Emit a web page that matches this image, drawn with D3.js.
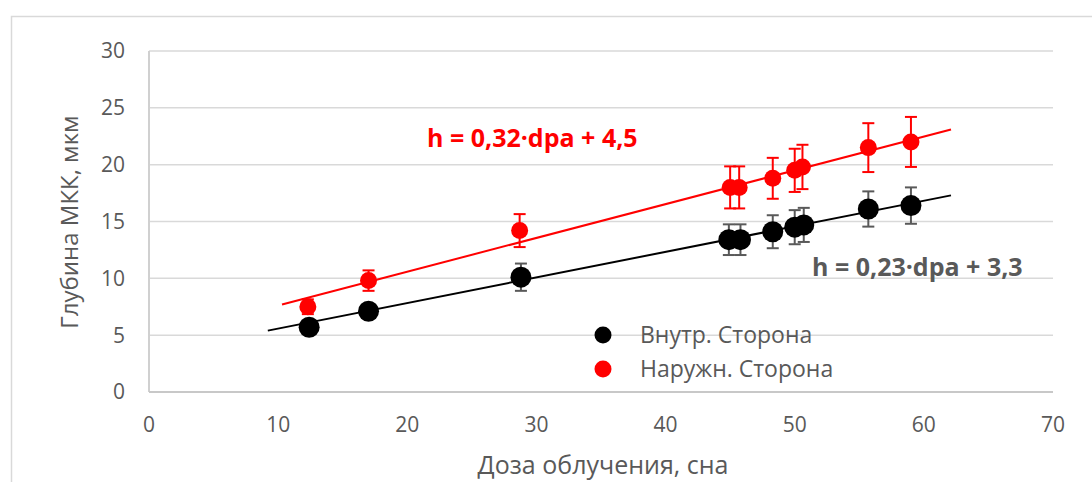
<!DOCTYPE html>
<html>
<head>
<meta charset="utf-8">
<script src="https://cdn.jsdelivr.net/npm/d3@7"></script>
<style>
  body { margin: 0; background: #fff; }
  text { font-family: "Open Sans", "Noto Sans", sans-serif; }
</style>
</head>
<body>
<svg id="canvas" width="1092" height="482"></svg>
<script>
// doses (dpa), depths and error half-widths
const innerDose = [12.4, 17.0, 28.8, 44.9, 45.8, 48.3, 50.0, 50.7, 55.7, 59.0];
const innerDepth = [5.7, 7.1, 10.1, 13.4, 13.4, 14.1, 14.5, 14.7, 16.1, 16.4];
const innerErr = [0.4, 0.5, 1.2, 1.35, 1.35, 1.45, 1.5, 1.5, 1.55, 1.6];

const outerDose = [12.3, 17.0, 28.7, 45.0, 45.7, 48.3, 50.0, 50.6, 55.7, 59.0];
const outerDepth = [7.5, 9.8, 14.2, 18.0, 18.0, 18.8, 19.5, 19.8, 21.5, 22.0];
const outerErr = [0.65, 0.9, 1.45, 1.85, 1.85, 1.8, 1.9, 1.95, 2.15, 2.2];

// trend line ends as seen on the chart
const innerTrend = [[9.2, 5.4], [62.1, 17.3]];
const outerTrend = [[10.3, 7.7], [62.1, 23.1]];

const xTicks = [0, 10, 20, 30, 40, 50, 60, 70];
const yTicks = [0, 5, 10, 15, 20, 25, 30];

const seriesNames = ['Внутр. Сторона', 'Наружн. Сторона'];

const svg = d3.select('#canvas');

// chart frame
svg.append('rect')
    .attr('x', 11.5).attr('y', 16.5)
    .attr('width', 1100).attr('height', 500)
    .attr('fill', 'none')
    .attr('stroke', '#d9d9d9')
    .attr('stroke-width', 1.5);

const x = d3.scaleLinear().domain([0, 70]).range([149, 1053]);
const y = d3.scaleLinear().domain([0, 30]).range([392, 51]);

// gridlines
svg.append('g')
    .selectAll('line')
    .data(yTicks)
    .enter()
    .append('line')
    .attr('x1', x(0)).attr('x2', x(70))
    .attr('y1', d => y(d)).attr('y2', d => y(d))
    .attr('stroke', '#d9d9d9')
    .attr('stroke-width', 1.5);

// y axis line
svg.append('line')
    .attr('x1', x(0)).attr('x2', x(0))
    .attr('y1', y(0)).attr('y2', y(30))
    .attr('stroke', '#d0d0d0')
    .attr('stroke-width', 2);

// x axis line
svg.append('line')
    .attr('x1', x(0)).attr('x2', x(70))
    .attr('y1', y(0)).attr('y2', y(0))
    .attr('stroke', '#c8c8c8')
    .attr('stroke-width', 2);

// tick labels
svg.append('g')
    .selectAll('text')
    .data(yTicks)
    .enter()
    .append('text')
    .attr('x', 125)
    .attr('y', d => y(d))
    .attr('dy', '0.35em')
    .attr('text-anchor', 'end')
    .attr('font-size', 21)
    .attr('fill', '#595959')
    .text(d => d);

svg.append('g')
    .selectAll('text')
    .data(xTicks)
    .enter()
    .append('text')
    .attr('x', d => x(d))
    .attr('y', 425)
    .attr('dy', '0.35em')
    .attr('text-anchor', 'middle')
    .attr('font-size', 21)
    .attr('fill', '#595959')
    .text(d => d);

// axis titles
svg.append('text')
    .attr('transform', 'translate(70,222) rotate(-90)')
    .attr('dy', '0.35em')
    .attr('text-anchor', 'middle')
    .attr('font-size', 24)
    .attr('fill', '#595959')
    .text('Глубина МКК, мкм');

svg.append('text')
    .attr('x', 603)
    .attr('y', 465)
    .attr('dy', '0.35em')
    .attr('text-anchor', 'middle')
    .attr('font-size', 25)
    .attr('fill', '#595959')
    .text('Доза облучения, сна');

// trend lines
const line = d3.line().x(d => x(d[0])).y(d => y(d[1]));

svg.append('path')
    .attr('d', line(innerTrend))
    .attr('stroke', '#000')
    .attr('stroke-width', 2)
    .attr('fill', 'none');

svg.append('path')
    .attr('d', line(outerTrend))
    .attr('stroke', '#ff0000')
    .attr('stroke-width', 2)
    .attr('fill', 'none');

const drawSeries = (dose, depth, err, color, barColor, r) => {
    const pts = dose.map((d, i) => ({ d: d, h: depth[i], e: err[i] }));
    const g = svg.append('g');

    const bars = g.selectAll('g.bar')
        .data(pts)
        .enter()
        .append('g')
        .attr('stroke', barColor)
        .attr('stroke-width', 2);

    bars.append('line')
        .attr('x1', p => x(p.d)).attr('x2', p => x(p.d))
        .attr('y1', p => y(p.h - p.e)).attr('y2', p => y(p.h + p.e));
    bars.append('line')
        .attr('x1', p => x(p.d) - 6).attr('x2', p => x(p.d) + 6)
        .attr('y1', p => y(p.h + p.e)).attr('y2', p => y(p.h + p.e));
    bars.append('line')
        .attr('x1', p => x(p.d) - 6).attr('x2', p => x(p.d) + 6)
        .attr('y1', p => y(p.h - p.e)).attr('y2', p => y(p.h - p.e));

    g.selectAll('circle')
        .data(pts)
        .enter()
        .append('circle')
        .attr('cx', p => x(p.d))
        .attr('cy', p => y(p.h))
        .attr('r', r)
        .attr('fill', color);
};

drawSeries(innerDose, innerDepth, innerErr, '#000', '#595959', 10.5);
drawSeries(outerDose, outerDepth, outerErr, '#ff0000', '#ff0000', 8.5);

// equations
svg.append('text')
    .attr('x', 427)
    .attr('y', 138)
    .attr('dy', '0.35em')
    .attr('font-size', 25)
    .attr('font-weight', 'bold')
    .attr('fill', '#ff0000')
    .text('h = 0,32·dpa + 4,5');

svg.append('text')
    .attr('x', 812)
    .attr('y', 267)
    .attr('dy', '0.35em')
    .attr('font-size', 25)
    .attr('font-weight', 'bold')
    .attr('fill', '#595959')
    .text('h = 0,23·dpa + 3,3');

// legend
const legend = svg.append('g')
    .selectAll('g')
    .data(seriesNames)
    .enter()
    .append('g')
    .attr('transform', (d, i) => 'translate(603,' + (335 + i * 34) + ')');

legend.append('circle')
    .attr('r', 8.5)
    .attr('fill', (d, i) => i === 0 ? '#000' : '#ff0000');

legend.append('text')
    .attr('x', 37)
    .attr('dy', '0.35em')
    .attr('font-size', 23)
    .attr('fill', '#595959')
    .text(d => d);
</script>
</body>
</html>
